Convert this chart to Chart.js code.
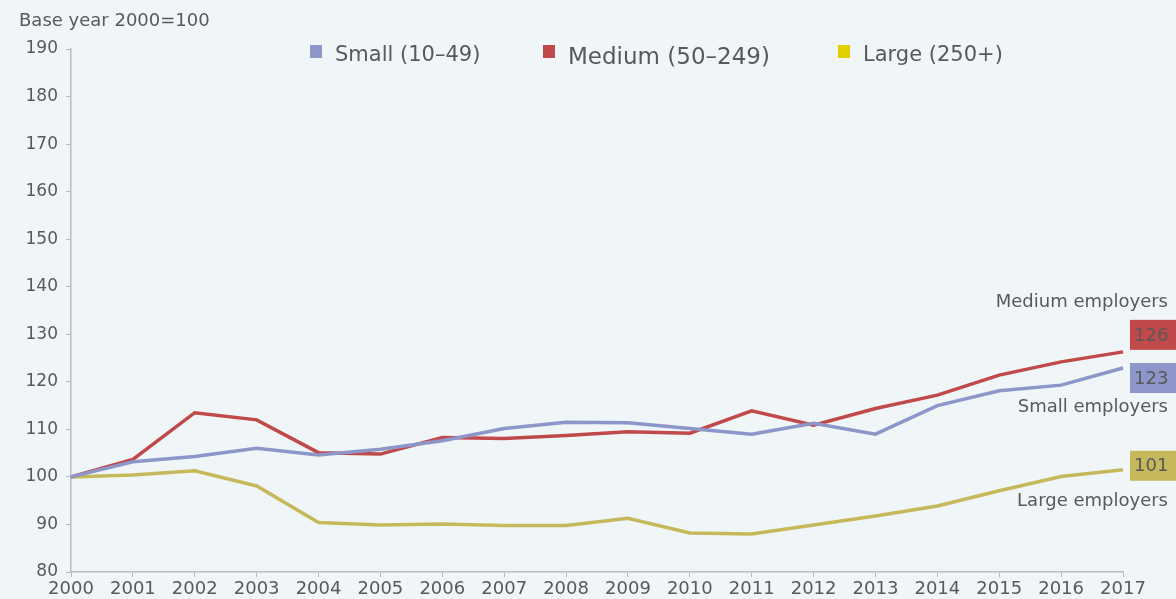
<!DOCTYPE html>
<html>
<head>
<meta charset="utf-8">
<script src="https://cdn.jsdelivr.net/npm/chart.js@4.4.1/dist/chart.umd.min.js"></script>
<style>
  html, body { margin: 0; padding: 0; background: #f0f5f8; }
  #wrap { width: 1176px; height: 599px; position: relative; }
</style>
</head>
<body>
<div id="wrap"><canvas id="chart"></canvas></div>
<script>
// Index, base year 2000 = 100
const years = ['2000', '2001', '2002', '2003', '2004', '2005', '2006', '2007', '2008',
               '2009', '2010', '2011', '2012', '2013', '2014', '2015', '2016', '2017'];

const smallEmployers  = [100, 103.2, 104.3, 106.0, 104.6, 105.8, 107.6, 110.2, 111.5,
                         111.4, 110.2, 109.0, 111.3, 109.0, 115.0, 118.1, 119.3, 122.9];
const mediumEmployers = [100, 103.7, 113.5, 112.0, 105.1, 104.8, 108.3, 108.1, 108.7,
                         109.5, 109.2, 113.9, 110.9, 114.4, 117.2, 121.4, 124.2, 126.3];
const largeEmployers  = [100, 100.4, 101.3, 98.1, 90.4, 89.9, 90.1, 89.8, 89.8,
                         91.3, 88.2, 88.0, 89.9, 91.8, 93.9, 97.1, 100.1, 101.5];

const endValues = ['126', '123', '101'];
const endNames = ['Medium employers', 'Small employers', 'Large employers'];
const legendLabels = ['Small (10\u201349)', 'Medium (50\u2013249)', 'Large (250+)'];

const colors = {
    small: '#8c96c8',
    medium: '#c0494a',
    large: '#c6b95c',
    largeKey: '#e1cf00',
    text: '#58595b',
    axis: '#b9bcbf'
};

const FONT = '"DejaVu Sans", "Noto Sans", sans-serif';

// Draws the title, the legend and the labels at the line ends
const annotations = {
    id: 'annotations',
    afterDraw(chart) {
        const ctx = chart.ctx;
        const y = chart.scales.y;
        const area = chart.chartArea;
        ctx.save();
        ctx.fillStyle = colors.text;
        ctx.textBaseline = 'middle';
        ctx.textAlign = 'left';
        ctx.font = '18px ' + FONT;
        ctx.fillText('Base year 2000=100', 19, 21);

        // legend
        const keys = [
            { x: 310, ty: 56, c: colors.small, size: 21, label: legendLabels[0] },
            { x: 543, ty: 58, c: colors.medium, size: 23, label: legendLabels[1] },
            { x: 838, ty: 56, c: colors.largeKey, size: 21, label: legendLabels[2] }
        ];
        keys.forEach(k => {
            ctx.fillStyle = k.c;
            ctx.fillRect(k.x, 45, 12, 13);
            ctx.fillStyle = colors.text;
            ctx.font = k.size + 'px ' + FONT;
            ctx.fillText(k.label, k.x + 25, k.ty);
        });

        // end-of-line boxes
        const last = years.length - 1;
        const ends = [
            { v: mediumEmployers[last], c: colors.medium, off: -17, nameOff: -33 },
            { v: smallEmployers[last], c: colors.small, off: 10, nameOff: 29 },
            { v: largeEmployers[last], c: colors.large, off: -4, nameOff: 36 }
        ];
        ends.forEach((e, i) => {
            const py = y.getPixelForValue(e.v);
            const cy = py + e.off;
            ctx.fillStyle = e.c;
            ctx.fillRect(area.right + 7, cy - 15, 1176 - area.right - 7, 30);
            ctx.fillStyle = colors.text;
            ctx.font = '18px ' + FONT;
            ctx.textAlign = 'left';
            ctx.fillText(endValues[i], area.right + 11, cy + 1);
            ctx.textAlign = 'right';
            ctx.fillText(endNames[i], 1168, cy + e.nameOff);
        });
        ctx.restore();
    }
};

const lineStyle = { borderWidth: 3.5, pointRadius: 0, tension: 0, fill: false };

new Chart(document.getElementById('chart'), {
    type: 'line',
    data: {
        labels: years,
        datasets: [
            { label: legendLabels[0], data: smallEmployers, borderColor: colors.small, ...lineStyle },
            { label: legendLabels[1], data: mediumEmployers, borderColor: colors.medium, ...lineStyle },
            { label: legendLabels[2], data: largeEmployers, borderColor: colors.large, ...lineStyle }
        ]
    },
    options: {
        responsive: true,
        maintainAspectRatio: false,
        animation: false,
        layout: { padding: { top: 49, right: 53, left: 0, bottom: 0 } },
        plugins: {
            legend: { display: false },
            tooltip: { enabled: false }
        },
        scales: {
            x: {
                offset: false,
                grid: { drawOnChartArea: false, color: colors.axis, tickLength: 5 },
                border: { color: colors.axis, width: 1.5 },
                ticks: {
                    color: colors.text,
                    font: { family: FONT, size: 18 },
                    padding: 2,
                    maxRotation: 0,
                    autoSkip: false
                },
                afterFit: (scale) => { scale.height = 27; }
            },
            y: {
                min: 80,
                max: 190,
                grid: { drawOnChartArea: false, color: colors.axis, tickLength: 5 },
                border: { color: colors.axis, width: 1.5 },
                ticks: {
                    stepSize: 10,
                    color: colors.text,
                    font: { family: FONT, size: 17 },
                    padding: 8
                },
                afterFit: (scale) => { scale.width = 71; }
            }
        }
    },
    plugins: [annotations]
});
</script>
</body>
</html>
